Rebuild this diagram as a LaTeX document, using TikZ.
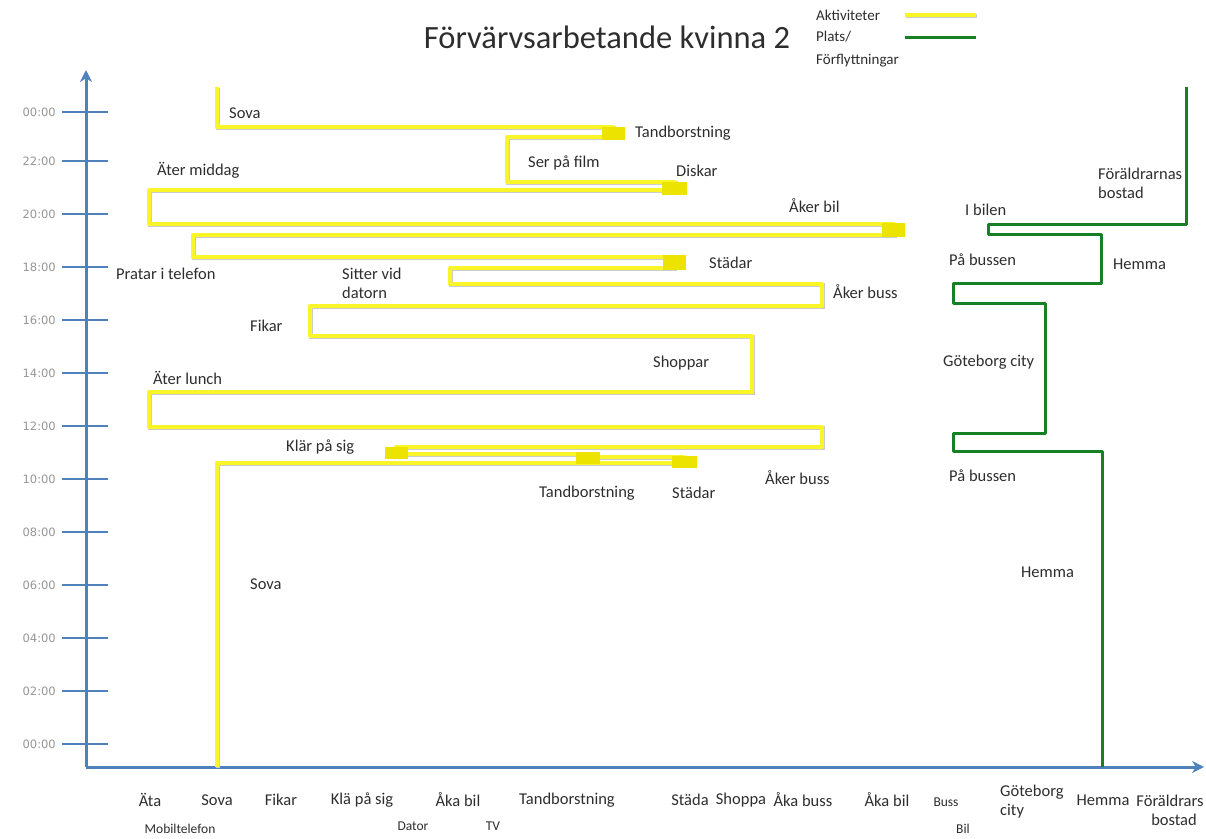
\documentclass[tikz,border=0pt]{standalone}
\usepackage{fontspec}
\setmainfont{Carlito}
\newfontfamily\tickfont{DejaVu Sans}
\usetikzlibrary{arrows.meta}
\definecolor{axisblue}{RGB}{79,129,189}
\definecolor{actyellow}{RGB}{250,245,40}
\definecolor{boxyellow}{RGB}{236,228,0}
\definecolor{placegreen}{RGB}{24,128,36}
\definecolor{txt}{RGB}{45,45,45}
\definecolor{ticktxt}{RGB}{150,150,150}
\begin{document}
\begin{tikzpicture}[x=1pt,y=-1pt,
  lbl/.style={anchor=west,inner sep=0pt,align=left,font=\fontsize{16.5}{19}\selectfont,text=txt},
  clbl/.style={anchor=center,inner sep=0pt,align=center,font=\fontsize{16.5}{19}\selectfont,text=txt},
  slbl/.style={anchor=center,inner sep=0pt,align=center,font=\fontsize{13.5}{16}\selectfont,text=txt},
  leglbl/.style={anchor=west,inner sep=0pt,font=\fontsize{15}{17}\selectfont,text=txt},
  ticklbl/.style={anchor=east,inner sep=0pt,font=\tickfont\fontsize{11.5}{13}\selectfont,text=ticktxt},
  axisline/.style={draw=axisblue,line width=3pt},
  tickline/.style={draw=axisblue,line width=2.5pt},
  actline/.style={draw=actyellow,line width=4pt,line join=round,
    preaction={draw=black!20,line width=4pt,transform canvas={shift={(0.8pt,-1.2pt)}}}},
  actbox/.style={fill=boxyellow,draw=none},
  placeline/.style={draw=placegreen,line width=3pt,line join=round}
]
\useasboundingbox (0,0) rectangle (1206,838);

% title and legend
\node[anchor=center,inner sep=0pt,font=\fontsize{32.5}{36}\selectfont,text=txt] (title) at (607,37) {Förvärvsarbetande kvinna 2};
\node[leglbl] (legA) at (816,15) {Aktiviteter};
\node[leglbl] (legP) at (816,37) {Plats/};
\node[leglbl] (legF) at (816,61) {Förflyttningar};
\coordinate (lyA) at (905,15); \coordinate (lyB) at (976,15);
\coordinate (lgA) at (905,37); \coordinate (lgB) at (976,37);
\draw[actline] (lyA) -- (lyB);
\draw[placeline] (lgA) -- (lgB);

% axes
\coordinate (O) at (86,767);
\coordinate (Ytop) at (86,70);
\coordinate (Xend) at (1204,767);
\draw[axisline,-{Stealth[length=12pt,width=12pt]}] (O) -- (Ytop);
\draw[axisline,-{Stealth[length=12pt,width=12pt]}] (O) -- (Xend);
\foreach \yy/\t [count=\k] in {744/00:00,691/02:00,638/04:00,585/06:00,532/08:00,479/10:00,426/12:00,373/14:00,320/16:00,267/18:00,214/20:00,161/22:00,112/00:00}{
  \draw[tickline] (62,\yy) -- (108,\yy);
  \node[ticklbl] (tick\k) at (56,\yy) {\t};
}

% activity path (yellow)
\draw[actline] (217,767) -- (217,463) -- (684,463) -- (684,457) -- (588,457) -- (588,454) -- (396,454)
  -- (396,447) -- (822,447) -- (822,427) -- (149,427) -- (149,392) -- (752,392) -- (752,336)
  -- (310,336) -- (310,306) -- (822,306) -- (822,284) -- (450,284) -- (450,268) -- (674,268)
  -- (674,257) -- (193,257) -- (193,235) -- (894,235) -- (894,224) -- (149,224) -- (149,190)
  -- (675,190) -- (675,182) -- (507,182) -- (507,137) -- (613,137) -- (613,127) -- (217,127) -- (217,87);
\fill[actbox] (672,456) rectangle (697,468);
\fill[actbox] (576,452) rectangle (600,464);
\fill[actbox] (385,447) rectangle (408,459);
\fill[actbox] (663,255) rectangle (686,270);
\fill[actbox] (882,223) rectangle (905,237);
\fill[actbox] (662,182) rectangle (687,195);
\fill[actbox] (602,127) rectangle (625,140);

% place path (green)
\draw[placeline] (1186,87) -- (1186,224) -- (988,224) -- (988,234) -- (1101,234) -- (1101,283)
  -- (953,283) -- (953,303) -- (1045,303) -- (1045,433) -- (953,433) -- (953,451) -- (1102,451) -- (1102,767);

% activity labels
\node[lbl] (a1) at (229,113) {Sova};
\node[lbl] (a2) at (635,133) {Tandborstning};
\node[lbl] (a3) at (157,170) {Äter middag};
\node[lbl] (a4) at (528,163) {Ser på film};
\node[lbl] (a5) at (676,171) {Diskar};
\node[lbl] (a6) at (789,206) {Åker bil};
\node[lbl] (a7) at (116,274) {Pratar i telefon};
\node[lbl] (a8) at (342,283) {Sitter vid\\datorn};
\node[lbl] (a9) at (709,263) {Städar};
\node[lbl] (a10) at (833,292) {Åker buss};
\node[lbl] (a11) at (250,326) {Fikar};
\node[lbl] (a12) at (653,363) {Shoppar};
\node[lbl] (a13) at (153,378) {Äter lunch};
\node[lbl] (a14) at (286,447) {Klär på sig};
\node[lbl] (a15) at (765,478) {Åker buss};
\node[lbl] (a16) at (539,493) {Tandborstning};
\node[lbl] (a17) at (672,493) {Städar};
\node[lbl] (a18) at (250,584) {Sova};

% place labels
\node[lbl] (p1) at (1098,183) {Föräldrarnas\\bostad};
\node[lbl] (p2) at (965,210) {I bilen};
\node[lbl] (p3) at (949,260) {På bussen};
\node[lbl] (p4) at (1113,264) {Hemma};
\node[lbl] (p5) at (943,362) {Göteborg city};
\node[lbl] (p6) at (949,476) {På bussen};
\node[lbl] (p7) at (1021,572) {Hemma};

% x-axis category labels
\node[clbl] (x1) at (150,800) {Äta};
\node[clbl] (x2) at (217,800) {Sova};
\node[clbl] (x3) at (281,800) {Fikar};
\node[clbl] (x4) at (362,800) {Klä på sig};
\node[clbl] (x5) at (458,800) {Åka bil};
\node[clbl] (x6) at (567,800) {Tandborstning};
\node[clbl] (x7) at (690,800) {Städa};
\node[clbl] (x8) at (741,800) {Shoppa};
\node[clbl] (x9) at (803,800) {Åka buss};
\node[clbl] (x10) at (887,800) {Åka bil};
\node[slbl] (x11) at (946,802) {Buss};
\node[lbl] (x12) at (1000,802) {Göteborg\\city};
\node[clbl] (x13) at (1103,800) {Hemma};
\node[clbl] (x14) at (1170,810) {Föräldrars\\\hspace*{8pt}bostad};
\node[slbl] (y1) at (180,829) {Mobiltelefon};
\node[slbl] (y2) at (413,826) {Dator};
\node[slbl] (y3) at (493,826) {TV};
\node[slbl] (y4) at (963,829) {Bil};
\end{tikzpicture}
\end{document}
